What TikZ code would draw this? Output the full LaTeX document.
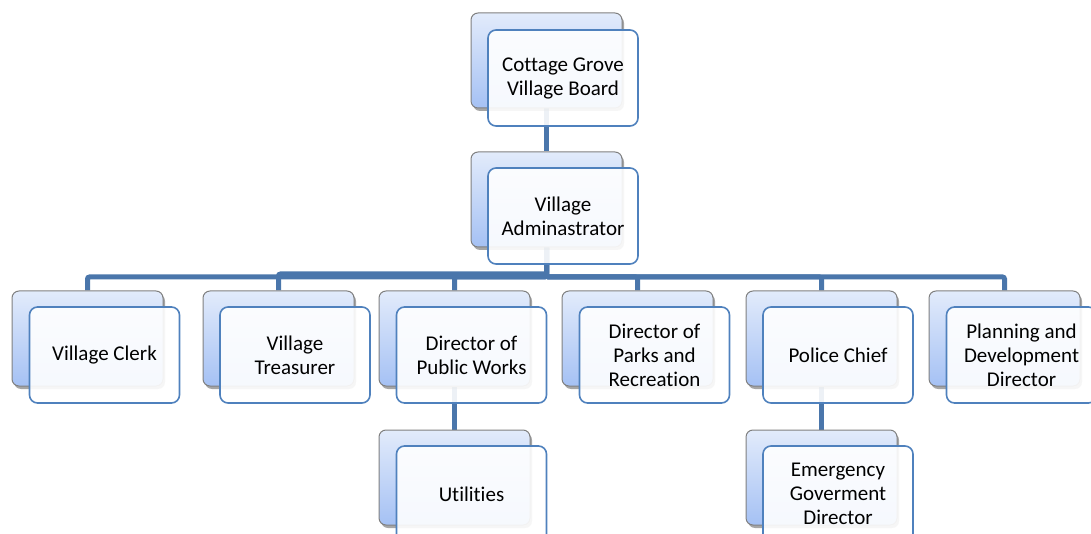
\documentclass[tikz,border=0pt]{standalone}
\usepackage{fontspec}
\setmainfont{Carlito}[Ligatures=NoCommon]
\usetikzlibrary{shadows,backgrounds,calc}
\definecolor{conncol}{HTML}{4A76AB}
\definecolor{frontline}{HTML}{4F81BD}
\definecolor{backtop}{HTML}{E2EBFB}
\definecolor{backbot}{HTML}{A5C1F4}
\tikzset{
 backbox/.style={draw=black!50, line width=1pt, rounded corners=7pt, minimum width=151pt, minimum height=95pt, inner sep=0pt, top color=backtop, bottom color=backbot, drop shadow={shadow xshift=2pt, shadow yshift=-3pt, opacity=0.35, fill=black}},
 frontbox/.style={draw=frontline, line width=1.6pt, rounded corners=8pt, fill=white, fill opacity=0.9, text opacity=1, minimum width=150pt, minimum height=96pt, inner sep=0pt, align=center, font=\fontsize{21}{24}\selectfont},
 connector/.style={draw=conncol, line width=5pt, rounded corners=2pt},
}
\begin{document}
\begin{tikzpicture}[x=1pt,y=-1pt]
\useasboundingbox (0,0) rectangle (1091,534);
\clip (0,0) rectangle (1091,534);
% level 1
\node[backbox] (bBoard) at (546.5,60.5) {};
\node[frontbox] (fBoard) at (563,78) {Cottage Grove\\Village Board};
% level 2
\node[backbox] (bAdmin) at (546.5,199.5) {};
\node[frontbox] (fAdmin) at (563,216) {Village\\Adminastrator};
% level 3
\node[backbox] (bClerk) at (87.5,338.5) {};
\node[frontbox] (fClerk) at (104.5,355) {Village Clerk};
\node[backbox] (bTreas) at (278.5,338.5) {};
\node[frontbox] (fTreas) at (295,355) {Village\\Treasurer};
\node[backbox] (bWorks) at (454.5,338.5) {};
\node[frontbox] (fWorks) at (471.5,355) {Director of\\Public Works};
\node[backbox] (bParks) at (637.5,338.5) {};
\node[frontbox] (fParks) at (654.5,355) {Director of\\Parks and\\Recreation};
\node[backbox] (bPolice) at (821.5,338.5) {};
\node[frontbox] (fPolice) at (838,355) {Police Chief};
\node[backbox] (bPlan) at (1004.5,338.5) {};
\node[frontbox] (fPlan) at (1021.5,355) {Planning and\\Development\\Director};
% level 4
\node[backbox] (bUtil) at (454.5,477.5) {};
\node[frontbox] (fUtil) at (471.5,494) {Utilities};
\node[backbox] (bEmerg) at (821.5,477.5) {};
\node[frontbox] (fEmerg) at (838,494) {Emergency\\Goverment\\Director};
\begin{pgfonlayer}{background}
\coordinate (bus) at (0,277);
\coordinate (busb) at (0,274);
\draw[connector] (bBoard.south) -- (bAdmin.north);
\draw[connector] (bAdmin.south) -- (bAdmin.south |- bus) -| (bClerk.north);
\draw[connector] (bAdmin.south) -- (bAdmin.south |- busb) -| (bTreas.north);
\draw[connector] (bAdmin.south) -- (bAdmin.south |- bus) -| (bWorks.north);
\draw[connector] (bAdmin.south) -- (bAdmin.south |- bus) -| (bParks.north);
\draw[connector] (bAdmin.south) -- (bAdmin.south |- bus) -| (bPolice.north);
\draw[connector] (bAdmin.south) -- (bAdmin.south |- bus) -| (bPlan.north);
\draw[connector] (bWorks.south) -- (bUtil.north);
\draw[connector] (bPolice.south) -- (bEmerg.north);
\end{pgfonlayer}
\end{tikzpicture}
\end{document}
